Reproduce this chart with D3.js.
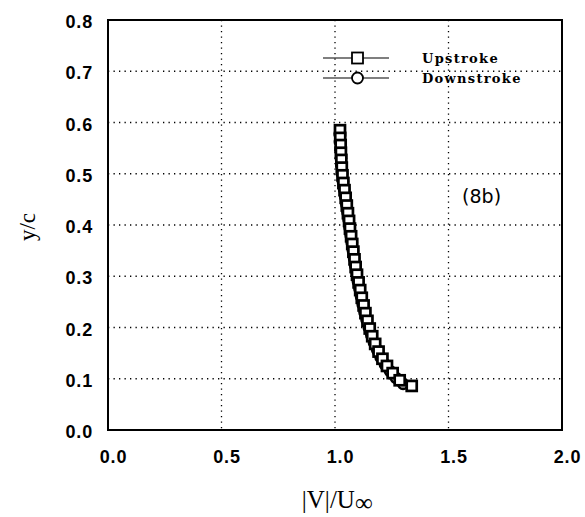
<!DOCTYPE html>
<html>
<head>
<meta charset="utf-8">
<script src="https://cdn.jsdelivr.net/npm/d3@7"></script>
<style>
  body { margin: 0; background: #fff; }
  svg { display: block; }
</style>
</head>
<body>
<svg id="chart" width="585" height="517"></svg>
<script>
// values
var upY = [0.585, 0.570, 0.556, 0.541, 0.527, 0.512, 0.497, 0.482, 0.468, 0.453, 0.438, 0.423, 0.408, 0.393, 0.378, 0.363, 0.348, 0.333, 0.318, 0.303, 0.288, 0.273, 0.258, 0.243, 0.228, 0.213, 0.198, 0.183, 0.168, 0.153, 0.139, 0.125, 0.111, 0.097, 0.086];
var upX = [1.022, 1.023, 1.025, 1.026, 1.028, 1.030, 1.033, 1.037, 1.042, 1.047, 1.052, 1.057, 1.062, 1.066, 1.071, 1.076, 1.081, 1.086, 1.091, 1.097, 1.104, 1.111, 1.118, 1.126, 1.134, 1.143, 1.153, 1.164, 1.177, 1.192, 1.209, 1.229, 1.254, 1.285, 1.338];
var downY = [0.578, 0.562, 0.546, 0.530, 0.515, 0.500, 0.485, 0.470, 0.455, 0.440, 0.425, 0.410, 0.395, 0.380, 0.365, 0.350, 0.335, 0.320, 0.305, 0.290, 0.275, 0.260, 0.245, 0.230, 0.215, 0.200, 0.185, 0.170, 0.156, 0.142, 0.128, 0.115, 0.102, 0.090];
var downX = [1.021, 1.022, 1.024, 1.026, 1.028, 1.031, 1.035, 1.040, 1.045, 1.050, 1.055, 1.060, 1.064, 1.069, 1.074, 1.079, 1.084, 1.089, 1.095, 1.101, 1.108, 1.115, 1.122, 1.130, 1.139, 1.149, 1.160, 1.172, 1.186, 1.201, 1.220, 1.242, 1.268, 1.300];
var xTicks = [0.0, 0.5, 1.0, 1.5, 2.0];
var yTicks = [0.0, 0.1, 0.2, 0.3, 0.4, 0.5, 0.6, 0.7, 0.8];
var seriesNames = ["Upstroke", "Downstroke"];

var svg = d3.select("#chart"),
    margin = {top: 20, right: 23, bottom: 87, left: 108},
    width = +svg.attr("width") - margin.left - margin.right,
    height = +svg.attr("height") - margin.top - margin.bottom;

var x = d3.scaleLinear().domain([0, 2]).range([0, width]);
var y = d3.scaleLinear().domain([0, 0.8]).range([height, 0]);

var g = svg.append("g")
    .attr("transform", "translate(" + margin.left + "," + margin.top + ")");

// dotted grid
g.selectAll(".vgrid")
  .data(xTicks.slice(1, -1))
  .enter().append("line")
    .attr("x1", function(d) { return x(d); })
    .attr("x2", function(d) { return x(d); })
    .attr("y1", 0).attr("y2", height)
    .attr("stroke", "#000").attr("stroke-width", 1.3)
    .attr("stroke-dasharray", "1.3,4.2");

g.selectAll(".hgrid")
  .data(yTicks.slice(1, -1))
  .enter().append("line")
    .attr("x1", 0).attr("x2", width)
    .attr("y1", function(d) { return y(d); })
    .attr("y2", function(d) { return y(d); })
    .attr("stroke", "#000").attr("stroke-width", 1.3)
    .attr("stroke-dasharray", "1.3,4.2");

// frame
g.append("rect")
    .attr("width", width).attr("height", height)
    .attr("fill", "none").attr("stroke", "#000").attr("stroke-width", 2);

// tick labels from d3 axes, without the axis lines
var xAxis = g.append("g")
    .attr("transform", "translate(0," + height + ")")
    .call(d3.axisBottom(x).tickValues(xTicks).tickFormat(d3.format(".1f")).tickSize(0).tickPadding(20));
xAxis.select(".domain").remove();
xAxis.selectAll("text")
    .attr("dx", 5)
    .style("font-family", "Liberation Sans, Arial, sans-serif")
    .style("font-weight", "bold").style("font-size", "18px")
    .style("letter-spacing", "0.8px").attr("fill", "#000");

var yAxis = g.append("g")
    .call(d3.axisLeft(y).tickValues(yTicks).tickFormat(d3.format(".1f")).tickSize(0).tickPadding(15));
yAxis.select(".domain").remove();
yAxis.selectAll("text")
    .attr("dy", "0.42em")
    .style("font-family", "Liberation Sans, Arial, sans-serif")
    .style("font-weight", "bold").style("font-size", "18px")
    .style("letter-spacing", "0.8px").attr("fill", "#000");

// axis titles
svg.append("text")
    .attr("transform", "translate(35,227) rotate(-90)")
    .attr("text-anchor", "middle")
    .style("font-family", "Liberation Serif, Times New Roman, serif")
    .style("font-size", "23px")
    .text("y/c");

var xt = svg.append("text")
    .attr("x", margin.left + x(1.01))
    .attr("y", 508)
    .attr("text-anchor", "middle")
    .style("font-family", "Liberation Serif, Times New Roman, serif")
    .style("font-size", "25px");
xt.append("tspan").text("|V|/U");
xt.append("tspan").attr("dy", 3).text("\u221E");

// panel tag
g.append("text")
    .attr("x", x(1.56))
    .attr("y", y(0.443))
    .style("font-family", "DejaVu Sans, sans-serif")
    .style("font-size", "19px")
    .text("(8b)");

// series
var up = upX.map(function(d, i) { return [d, upY[i]]; });
var down = downX.map(function(d, i) { return [d, downY[i]]; });

var line = d3.line()
    .x(function(d) { return x(d[0]); })
    .y(function(d) { return y(d[1]); });

[down, up].forEach(function(s) {
  g.append("path").datum(s)
      .attr("d", line)
      .attr("fill", "none").attr("stroke", "#000").attr("stroke-width", 1.5);
});

g.selectAll(".down")
  .data(down)
  .enter().append("circle")
    .attr("cx", function(d) { return x(d[0]); })
    .attr("cy", function(d) { return y(d[1]); })
    .attr("r", 5)
    .attr("fill", "#fff").attr("stroke", "#000").attr("stroke-width", 2.7);

g.selectAll(".up")
  .data(up)
  .enter().append("rect")
    .attr("x", function(d) { return x(d[0]) - 5; })
    .attr("y", function(d) { return y(d[1]) - 5; })
    .attr("width", 10).attr("height", 10)
    .attr("fill", "#fff").attr("stroke", "#000").attr("stroke-width", 2.7);

// legend
var legend = svg.append("g");
var legendY = [58, 78];
seriesNames.forEach(function(name, i) {
  var ly = legendY[i];
  legend.append("line")
      .attr("x1", 323).attr("x2", 389)
      .attr("y1", ly).attr("y2", ly)
      .attr("stroke", "#000").attr("stroke-width", 1.2);
  if (i === 0) {
    legend.append("rect")
        .attr("x", 352).attr("y", ly - 5.5)
        .attr("width", 11).attr("height", 11)
        .attr("fill", "#fff").attr("stroke", "#000").attr("stroke-width", 1.8);
  } else {
    legend.append("circle")
        .attr("cx", 357.5).attr("cy", ly).attr("r", 5.5)
        .attr("fill", "#fff").attr("stroke", "#000").attr("stroke-width", 1.8);
  }
  legend.append("text")
      .attr("x", 422).attr("y", ly + 5)
      .style("font-family", "DejaVu Serif, serif")
      .style("font-weight", "bold").style("font-size", "13px")
      .style("letter-spacing", "1.3px")
      .text(name);
});
</script>
</body>
</html>
